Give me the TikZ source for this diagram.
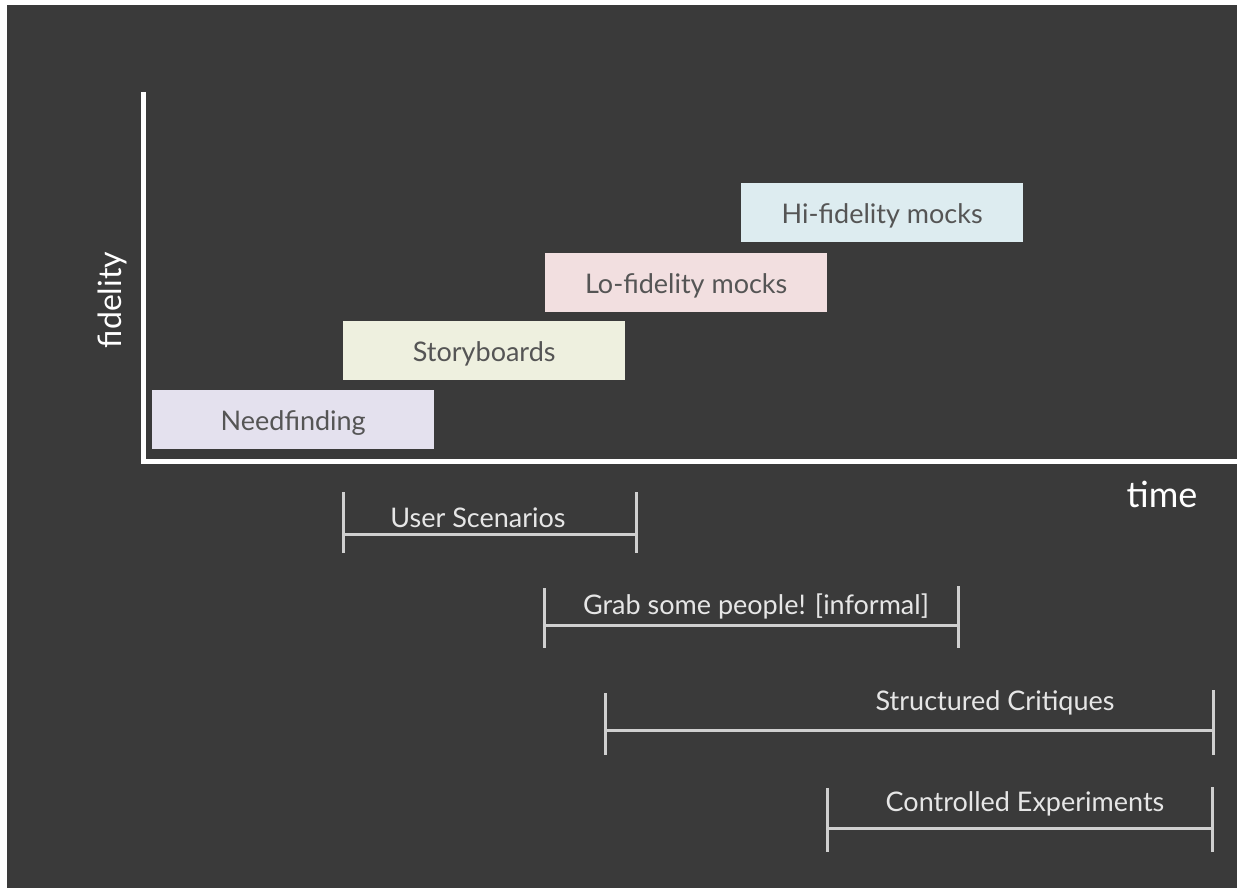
\documentclass[tikz,border=0pt]{standalone}
\usepackage{fontspec}
\setmainfont{Lato}
\definecolor{bgdark}{HTML}{3A3A3A}
\definecolor{boxtext}{HTML}{555555}
\definecolor{needc}{HTML}{E4E1EE}
\definecolor{storyc}{HTML}{EEF0DF}
\definecolor{loc}{HTML}{F2DFE0}
\definecolor{hic}{HTML}{DDECF0}
\definecolor{brk}{HTML}{CFCFCF}
\definecolor{lbl}{HTML}{E6E6E6}
\newcommand{\lowtxt}[1]{\raisebox{-3pt}[\height][\depth]{#1}}
\begin{document}
\begin{tikzpicture}[x=1pt,y=-1pt,
  phase/.style={draw=none,anchor=north west,inner sep=0pt,minimum width=282pt,minimum height=59pt,text=boxtext,font=\fontsize{27}{30}\selectfont},
  axis/.style={draw=white,line width=5pt},
  brack/.style={draw=brk,line width=3pt},
  blabel/.style={text=lbl,font=\fontsize{27}{30}\selectfont,inner sep=0pt}]
\useasboundingbox (0,0) rectangle (1237,888);
\fill[white] (0,0) rectangle (1237,888);
\fill[bgdark] (7,5) rectangle (1237,888);
% axes
\coordinate (ytop) at (143,92);
\coordinate (orig) at (143,461);
\coordinate (xend) at (1237,461);
\draw[axis,line cap=butt] (ytop) -- (orig) -- (xend);
\node[text=white,font=\fontsize{32}{36}\selectfont,rotate=90,inner sep=0pt] (fid) at (112,300) {fidelity};
\node[text=white,font=\fontsize{36}{40}\selectfont,inner sep=0pt] (time) at (1162,494) {time};
% phase boxes
\node[phase,fill=needc] (need) at (152,390) {\lowtxt{Needfinding}};
\node[phase,fill=storyc] (story) at (343,321) {\lowtxt{Storyboards}};
\node[phase,fill=loc] (lo) at (545,253) {\lowtxt{Lo-fidelity mocks}};
\node[phase,fill=hic] (hi) at (741,183) {\lowtxt{Hi-fidelity mocks}};
% brackets
\coordinate (usL) at (343,534); \coordinate (usR) at (636,534);
\draw[brack] (343,492) -- (343,553); \draw[brack] (636,492) -- (636,553);
\draw[brack] (usL) -- (usR);
\node[blabel] (us) at (478,518) {User Scenarios};
\coordinate (gbL) at (544,625); \coordinate (gbR) at (958,625);
\draw[brack] (544,588) -- (544,648); \draw[brack] (958,586) -- (958,648);
\draw[brack] (gbL) -- (gbR);
\node[blabel] (gb) at (756,606) {Grab some people! [informal]};
\coordinate (scL) at (605,730); \coordinate (scR) at (1213,730);
\draw[brack] (605,693) -- (605,755); \draw[brack] (1213,690) -- (1213,755);
\draw[brack] (scL) -- (scR);
\node[blabel] (sc) at (995,703) {Structured Critiques};
\coordinate (ceL) at (827,828); \coordinate (ceR) at (1212,828);
\draw[brack] (827,788) -- (827,852); \draw[brack] (1212,787) -- (1212,852);
\draw[brack] (ceL) -- (ceR);
\node[blabel] (ce) at (1025,804) {Controlled Experiments};
\end{tikzpicture}
\end{document}
